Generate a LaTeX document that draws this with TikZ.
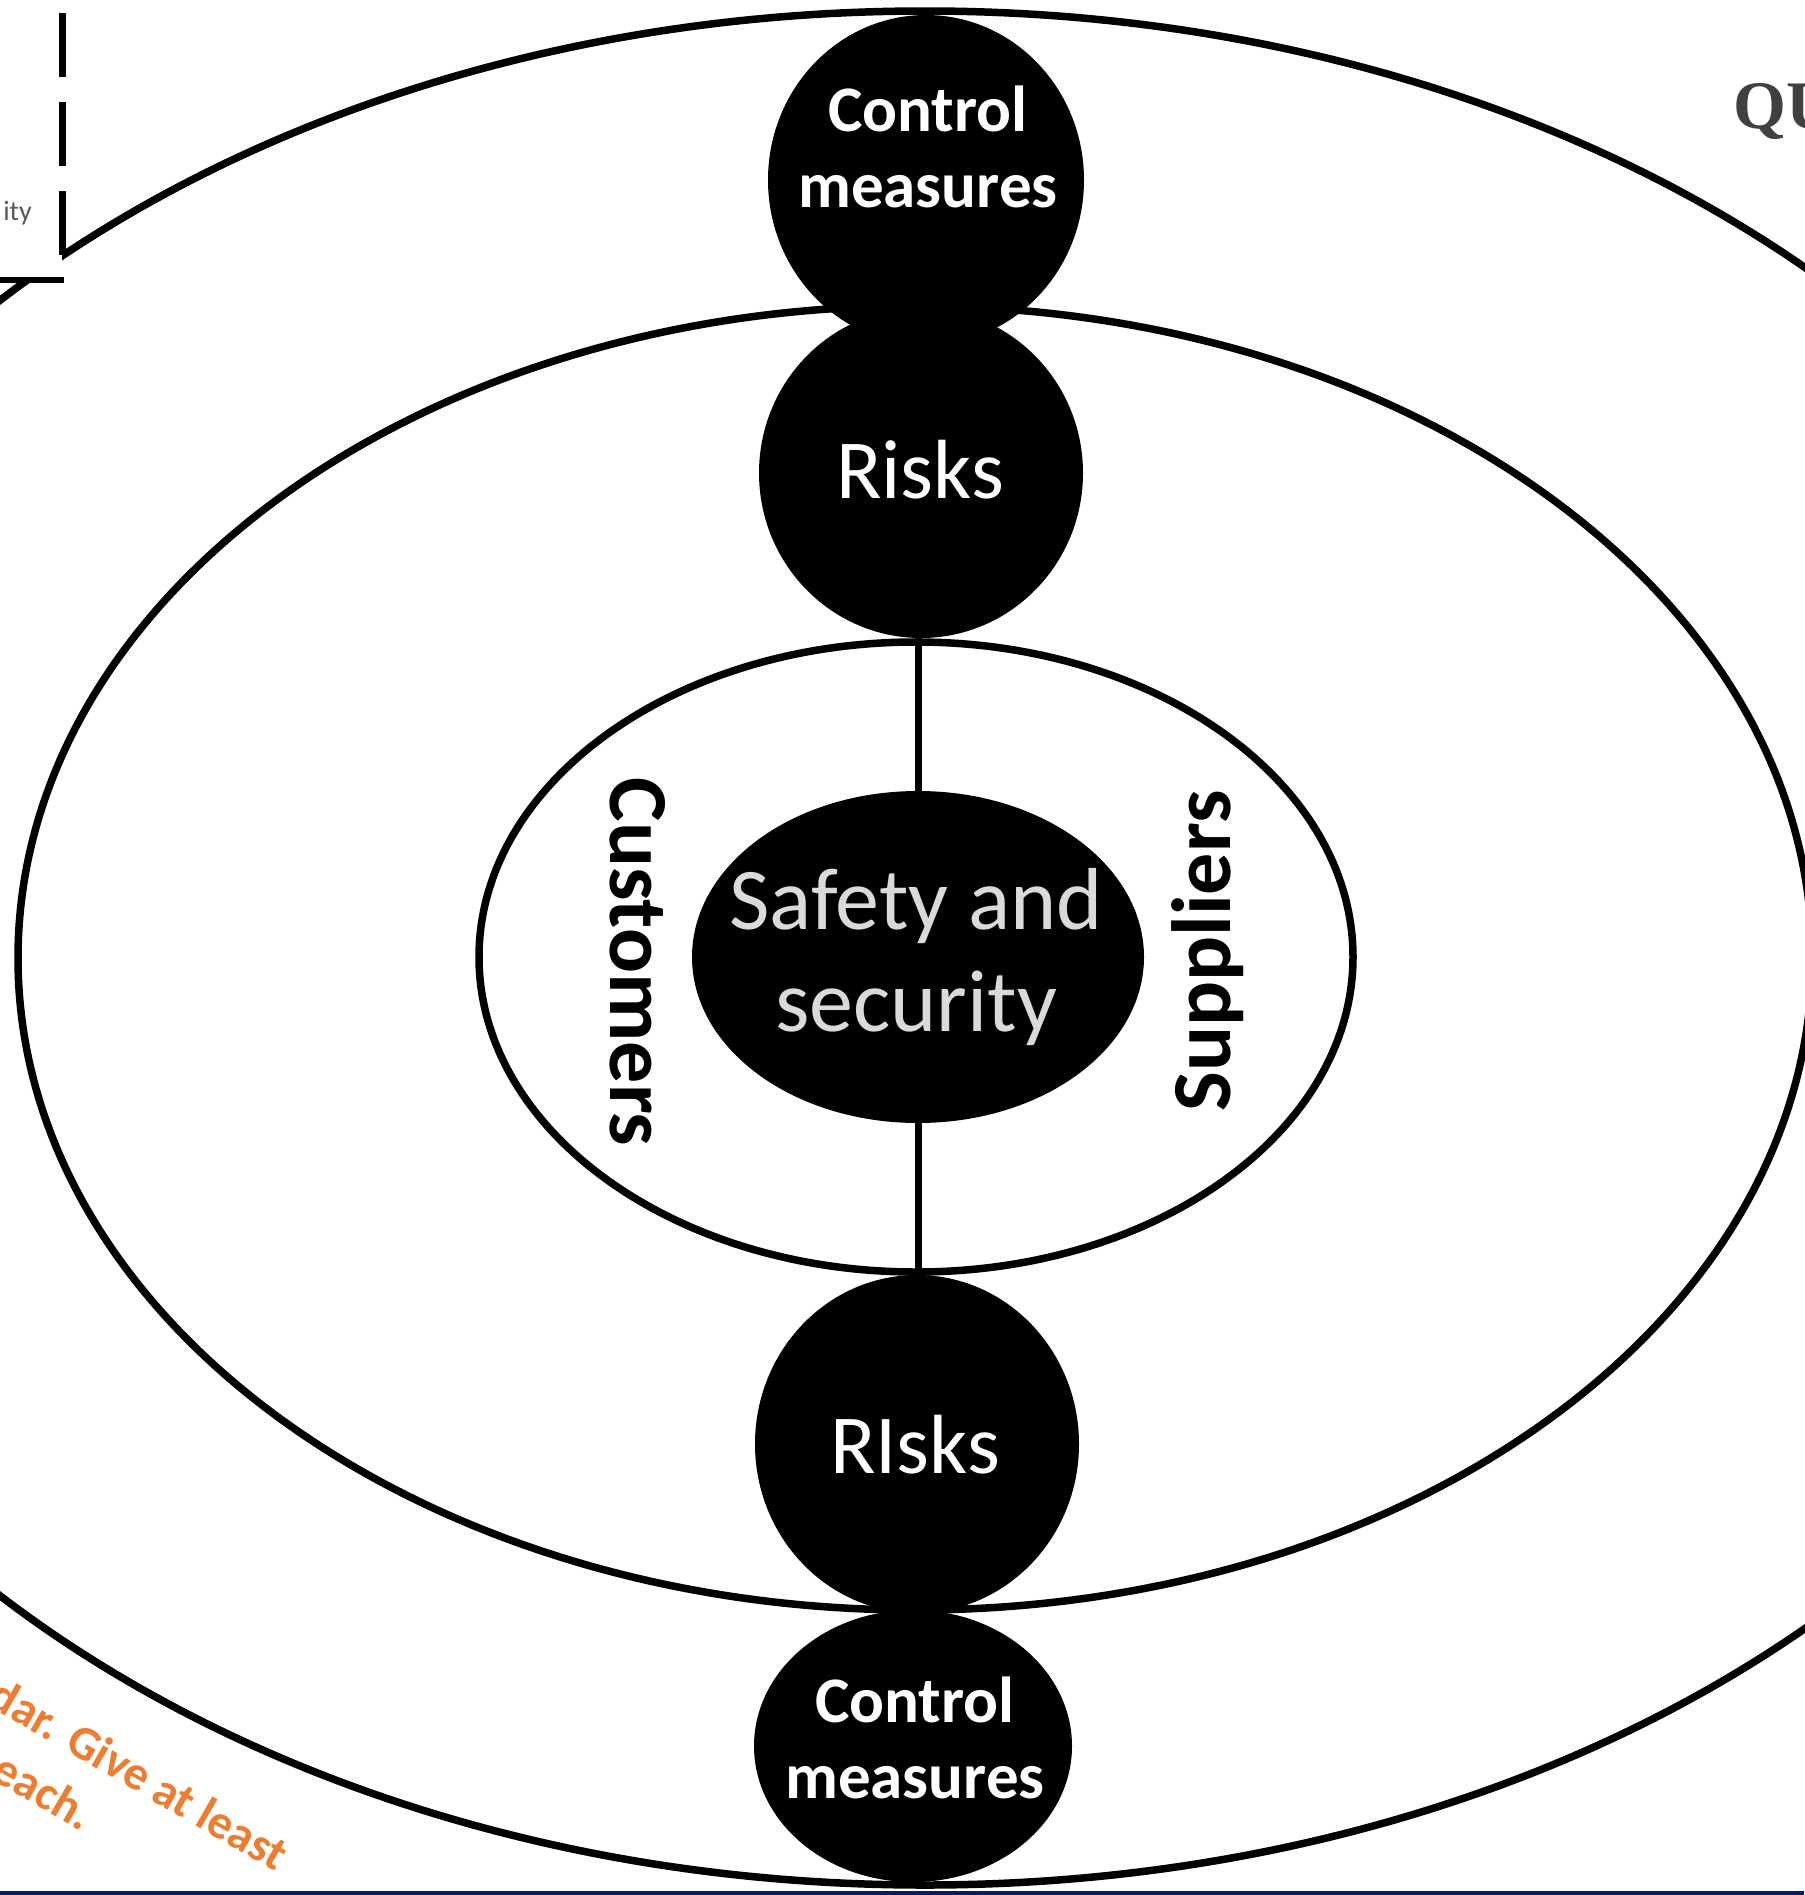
\documentclass[tikz,border=0pt]{standalone}
\usepackage{fontspec}
\setmainfont{Carlito}
\newfontfamily\heavyserif{Liberation Serif}
\usetikzlibrary{shapes.geometric}
\definecolor{orangeT}{HTML}{ED7D31}
\definecolor{navyT}{HTML}{002060}
\definecolor{silverT}{HTML}{DADADA}
\definecolor{darkT}{HTML}{404040}
\definecolor{grayT}{HTML}{595959}
\begin{document}
\begin{tikzpicture}[x=1pt,y=-1pt,
  ring/.style={ellipse, draw=black, line width=7.5pt, inner sep=0pt},
  blob/.style={ellipse, fill=black, draw=none, inner sep=0pt},
  wlabel/.style={text=white, align=center, inner sep=0pt},
  link/.style={line width=7pt},
  sidelabel/.style={font=\bfseries\fontsize{84}{90}\selectfont, inner sep=0pt},
  orangelabel/.style={rotate=-30, anchor=base east, text=orangeT, inner sep=0pt,
    font=\bfseries\fontsize{48}{58}\selectfont}]
\useasboundingbox (0,0) rectangle (1804,1895);
\fill[white] (0,0) rectangle (1804,1895);

% rings
\node[ring, minimum width=2560pt, minimum height=1874pt] (outer) at (925,948) {};
\node[ring, minimum width=1794pt, minimum height=1304pt] (middle) at (915,958) {};
\node[ring, minimum width=874pt, minimum height=630pt] (inner) at (916,957) {};

% black blobs
\node[blob, minimum width=452pt, minimum height=332pt] (core) at (918,957) {};
\node[blob, minimum width=316pt, minimum height=330pt] (cmtop) at (926,180) {};
\node[blob, minimum width=324pt, minimum height=330pt] (risktop) at (921,473) {};
\node[blob, minimum width=324pt, minimum height=338pt] (riskbot) at (917,1444) {};
\node[blob, minimum width=318pt, minimum height=272pt] (cmbot) at (913,1746) {};

% connectors
\draw[link] (core.north) -- (core.north |- risktop.south);
\draw[link] (core.south) -- (core.south |- riskbot.north);

% labels in blobs
\node[wlabel, font=\bfseries\fontsize{65}{76}\selectfont] (cmtoptext) at (928,147) {Control\\measures};
\node[wlabel, font=\fontsize{84}{90}\selectfont, anchor=base] (risktoptext) at (920,498) {Risks};
\node[wlabel, font=\fontsize{84}{90}\selectfont, anchor=base] (riskbottext) at (915,1473) {RIsks};
\node[wlabel, font=\bfseries\fontsize{65}{76}\selectfont] (cmbottext) at (915,1738) {Control\\measures};
\node[wlabel, text=silverT, font=\fontsize{88}{102}\selectfont] (coretext) at (916,957) {Safety and\\security};

% side labels
\node[sidelabel, rotate=-90, anchor=base] (customers) at (610,962) {Customers};
\node[sidelabel, rotate=90, anchor=base] (suppliers) at (1230,951) {Suppliers};

% top-left fragment: white panel covering the ring, dashed right edge, solid bottom edge
\fill[white] (0,0) rectangle (62,280);
\coordinate (dashtop) at (62,13);
\coordinate (dashend) at (62,256);
\draw[line width=7pt, dash pattern=on 64pt off 25pt] (dashtop) -- (dashend);
\coordinate (hA) at (0,280);
\coordinate (hB) at (64,280);
\draw[line width=6pt] (hA) -- (hB);
\node[anchor=base east, text=grayT, inner sep=0pt, font=\fontsize{28}{30}\selectfont] (ity) at (32,220) {ity};

% top-right fragment
\node[anchor=base west, text=darkT, inner sep=0pt, font=\heavyserif\bfseries\fontsize{68}{70}\selectfont] (qu) at (1733,128) {QU};

% orange fragment
\node[orangelabel] (orange1) at (276,1872) {dar. Give at least};
\node[orangelabel] (orange2) at (82,1832) {each.};

% bottom bar
\fill[navyT] (0,1891) rectangle (1804,1895);
\end{tikzpicture}
\end{document}
